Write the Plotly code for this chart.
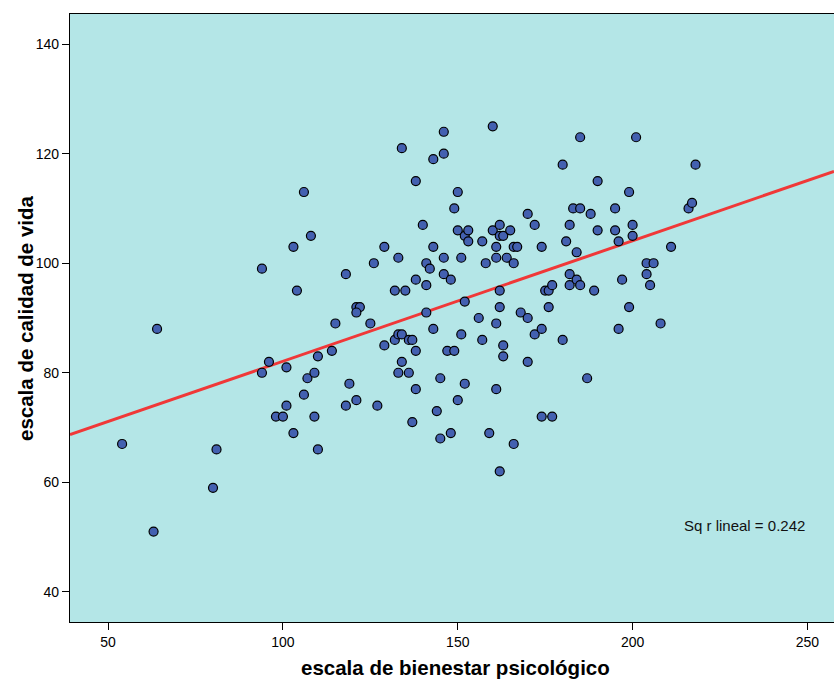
import plotly.graph_objects as go

# escala de bienestar psicológico (x) and escala de calidad de vida (y)
bienestar = [54, 63, 64, 80, 81, 94, 94, 96, 98, 100, 101, 101, 103, 103, 104, 106, 106, 107, 108, 109,
             109, 110, 110, 114, 115, 118, 118, 119, 121, 122, 121, 121, 125, 126, 127, 129, 129, 132, 132, 133,
             133, 133, 134, 134, 134, 135, 136, 136, 137, 137, 138, 138, 138, 138, 140, 141, 141, 141, 142, 143,
             143, 143, 144, 145, 145, 146, 146, 146, 146, 147, 148, 148, 149, 149, 150, 150, 150, 151, 151, 152,
             152, 152, 153, 153, 156, 157, 157, 158, 159, 160, 160, 161, 161, 161, 161, 162, 162, 162, 162, 162,
             163, 163, 163, 164, 165, 166, 166, 166, 167, 168, 170, 170, 170, 172, 172, 174, 174, 174, 175, 176,
             176, 177, 177, 180, 180, 181, 182, 182, 182, 183, 184, 184, 185, 185, 185, 187, 188, 189, 190, 190,
             195, 195, 196, 196, 197, 199, 199, 200, 200, 201, 204, 204, 205, 206, 208, 211, 216, 217, 218]
calidad = [67, 51, 88, 59, 66, 99, 80, 82, 72, 72, 74, 81, 69, 103, 95, 113, 76, 79, 105, 80,
           72, 83, 66, 84, 89, 98, 74, 78, 92, 92, 91, 75, 89, 100, 74, 103, 85, 95, 86, 101,
           87, 80, 87, 82, 121, 95, 86, 80, 86, 71, 115, 97, 84, 77, 107, 100, 96, 91, 99, 119,
           103, 88, 73, 79, 68, 124, 120, 101, 98, 84, 97, 69, 110, 84, 113, 106, 75, 101, 87, 105,
           93, 78, 106, 104, 90, 104, 86, 100, 69, 125, 106, 103, 101, 89, 77, 107, 105, 95, 92, 62,
           105, 85, 83, 101, 106, 103, 100, 67, 103, 91, 109, 90, 82, 107, 87, 103, 88, 72, 95, 95,
           92, 96, 72, 118, 86, 104, 107, 98, 96, 110, 102, 97, 123, 110, 96, 79, 109, 95, 115, 106,
           110, 106, 104, 88, 97, 113, 92, 107, 105, 123, 100, 98, 96, 100, 89, 103, 110, 111, 118]

# Fit line as shown in the chart
fit_intercept = 60.1
fit_slope = 0.220
r_squared = 0.242

x_range = [39.1, 257.6]
y_range = [34.5, 145.5]
x_ticks = [50, 100, 150, 200, 250]
y_ticks = [40, 60, 80, 100, 120, 140]

x_title = "escala de bienestar psicológico"
y_title = "escala de calidad de vida"

FONT = "Liberation Sans, Arial, sans-serif"

fig = go.Figure()

fit_x = x_range
fit_y = [fit_intercept + fit_slope * v for v in fit_x]
fig.add_trace(go.Scatter(
    x=fit_x, y=fit_y, mode="lines",
    line=dict(color="#f03838", width=3),
    hoverinfo="skip", showlegend=False,
))

fig.add_trace(go.Scatter(
    x=bienestar, y=calidad, mode="markers",
    marker=dict(size=9, color="#4360b0", line=dict(color="#000000", width=1.2)),
    showlegend=False,
))

fig.add_annotation(
    x=250, y=52.1, xref="x", yref="y",
    text=f"Sq r lineal = {r_squared:.3f}",
    showarrow=False, xanchor="right", yanchor="middle",
    font=dict(family=FONT, size=15, color="#111111"),
)

# axis titles
fig.add_annotation(
    x=0.5, y=0, xref="paper", yref="paper",
    text=f"<b>{x_title}</b>", showarrow=False,
    xanchor="center", yanchor="middle", yshift=-45, xshift=3,
    font=dict(family=FONT, size=20.5, color="#000000"),
)
fig.add_annotation(
    x=0, y=0.5, xref="paper", yref="paper",
    text=f"<b>{y_title}</b>", showarrow=False, textangle=-90,
    xanchor="center", yanchor="middle", xshift=-45,
    font=dict(family=FONT, size=20.5, color="#000000"),
)

axis_common = dict(
    showgrid=False, zeroline=False, automargin=False,
    showline=True, linecolor="#000000", linewidth=1.2,
    ticks="outside", ticklen=7, tickwidth=1.2, tickcolor="#000000",
    tickfont=dict(family=FONT, size=14, color="#000000"),
)

fig.update_layout(
    width=834, height=679,
    margin=dict(l=70, r=0, t=14, b=57),
    paper_bgcolor="#ffffff",
    plot_bgcolor="#b4e6e7",
    font=dict(family=FONT),
    xaxis=dict(range=x_range, tickvals=x_ticks, mirror=True, **axis_common),
    yaxis=dict(range=y_range, tickvals=y_ticks, mirror=False, **axis_common),
)

fig.write_html(
    "out.html",
    config={"displayModeBar": False},
    post_script="document.body.style.margin='0';document.body.style.overflow='hidden';",
)
